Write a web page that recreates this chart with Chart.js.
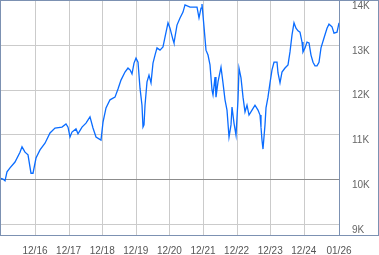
<!DOCTYPE html>
<html>
<head>
<meta charset="utf-8">
<script src="https://cdn.jsdelivr.net/npm/chart.js@4.4.1/dist/chart.umd.min.js"></script>
<style>
  html, body { margin: 0; padding: 0; background: #fff; }
  canvas { display: block; }
</style>
</head>
<body>
<canvas id="growthChart" width="379" height="255"></canvas>
<script>
// months counted from Dec 2015 (0 = 12/15)
var months = [-0.5, 0.57, 1.29, 2.0, 3.07, 4.86, 6.64, 7.36, 8.43, 9.5, 10.57, 11.29, 12.36, 13.79, 15.57,
    17.36, 19.14, 21.64, 23.07, 23.79, 24.5, 25.21, 26.64, 27.36, 28.79, 30.21, 31.64, 32.71, 33.79, 35.57,
    36.29, 37.36, 38.79, 40.57, 41.64, 42.71, 44.14, 45.21, 45.93, 46.64, 47.36, 48.07, 48.79, 49.5, 50.21,
    50.57, 50.93, 51.29, 52.0, 52.71, 53.43, 54.14, 54.86, 55.57, 56.64, 57.71, 58.43, 59.5, 60.21, 61.29,
    61.64, 62.71, 63.79, 64.86, 65.57, 67.36, 69.14, 69.86, 70.57, 71.29, 71.64, 72.36, 73.07, 73.79, 74.5,
    75.21, 75.57, 76.29, 76.64, 77.36, 78.43, 79.14, 79.86, 80.57, 81.29, 82.0, 82.36, 83.07, 83.79, 84.5,
    84.86, 85.57, 86.29, 87.0, 87.71, 88.43, 89.5, 90.57, 91.64, 92.36, 92.71, 93.07, 93.43, 94.14, 94.5,
    95.21, 95.93, 96.64, 97.36, 98.43, 98.79, 99.5, 100.21, 101.29, 102.36, 103.07, 103.79, 104.5, 105.21,
    105.93, 106.64, 107.36, 107.71, 108.43, 109.14, 109.86, 110.57, 111.29, 112.0, 112.71, 113.43, 114.14,
    115.21, 116.29, 117.0, 118.07, 118.79, 119.86, 120.57];

var values = [10020, 10000, 9960, 10160, 10250, 10380, 10600, 10720, 10600, 10540, 10130, 10130, 10470, 10650, 10800,
    11030, 11140, 11160, 11230, 11160, 10940, 11050, 11120, 11010, 11160, 11250, 11390, 11140, 10940, 10870,
    11270, 11590, 11770, 11830, 12010, 12210, 12390, 12480, 12440, 12350, 12590, 12700, 12610, 12030, 11650,
    11160, 11210, 11650, 12170, 12320, 12150, 12590, 12770, 12930, 12880, 12950, 13170, 13490, 13370, 13110,
    13040, 13440, 13600, 13730, 13890, 13840, 13840, 13840, 13600, 13820, 13910, 13400, 12880, 12770, 12550,
    11990, 11880, 12280, 11830, 12170, 12500, 12150, 11770, 11540, 10940, 11210, 11610, 11250, 10980, 11770,
    12480, 12260, 11830, 11500, 11650, 11430, 11540, 11650, 11540, 11430, 11160, 10870, 10670, 11210, 11590,
    11830, 12150, 12440, 12610, 12610, 12370, 12150, 12390, 12480, 12550, 12840, 13220, 13490, 13370,
    13310, 13280, 13060, 12840, 12930, 13060, 13040, 12770, 12610, 12530, 12530, 12610, 12930,
    13150, 13370, 13460, 13400, 13260, 13280, 13490];

var tickMonths = [12, 24, 36, 48, 60, 72, 84, 96, 108, 120.57];
var tickLabels = ['12/16', '12/17', '12/18', '12/19', '12/20', '12/21', '12/22', '12/23', '12/24', '01/26'];
var yTicks = [9000, 10000, 11000, 12000, 13000, 14000];

var frameColor = '#7c91b2';
var gridColor = '#cbcbcb';
var baseColor = '#8c8c8c';

// frame round the plot and the axis panel, grid drawn on the library's scales
var framePlugin = {
    id: 'frame',
    beforeDatasetsDraw: function (chart) {
        var c = chart.ctx;
        var a = chart.chartArea;
        var xs = chart.scales.x;
        var ys = chart.scales.y;
        c.save();
        c.lineWidth = 1;
        tickMonths.forEach(function (m) {
            var px = Math.round(xs.getPixelForValue(m)) + 0.5;
            if (px > a.right - 1) return;
            c.strokeStyle = gridColor;
            c.beginPath(); c.moveTo(px, a.top); c.lineTo(px, a.bottom); c.stroke();
        });
        yTicks.forEach(function (v) {
            var py = Math.round(ys.getPixelForValue(v)) + 0.5;
            c.strokeStyle = v === 10000 ? baseColor : gridColor;
            c.beginPath(); c.moveTo(a.left, py); c.lineTo(a.right, py); c.stroke();
        });
        c.restore();
    },
    afterDraw: function (chart) {
        var c = chart.ctx;
        var w = chart.width;
        var a = chart.chartArea;
        c.save();
        c.strokeStyle = frameColor;
        c.lineWidth = 1;
        c.beginPath();
        c.moveTo(0, 0.5); c.lineTo(w, 0.5);
        c.moveTo(0.5, 0); c.lineTo(0.5, a.bottom + 1);
        c.moveTo(w - 0.5, 0); c.lineTo(w - 0.5, a.bottom + 1);
        c.moveTo(a.right + 0.5, 0); c.lineTo(a.right + 0.5, a.bottom + 1);
        c.moveTo(0, a.bottom + 0.5); c.lineTo(w, a.bottom + 0.5);
        c.stroke();
        c.restore();
    }
};

var ctx = document.getElementById('growthChart').getContext('2d');
var myChart = new Chart(ctx, {
    type: 'line',
    data: {
        datasets: [{
            data: months.map(function (m, i) { return { x: m, y: values[i] }; }),
            borderColor: '#0a6cff',
            borderWidth: 1.3,
            pointRadius: 0,
            tension: 0,
            fill: false
        }]
    },
    options: {
        responsive: false,
        animation: false,
        layout: { padding: 0 },
        plugins: {
            legend: { display: false },
            tooltip: { enabled: false }
        },
        scales: {
            x: {
                type: 'linear',
                min: -0.5,
                max: 120.57,
                grid: { display: false },
                border: { display: false },
                afterBuildTicks: function (scale) {
                    scale.ticks = tickMonths.map(function (v) { return { value: v }; });
                },
                afterFit: function (scale) {
                    scale.height = 20;
                    scale.paddingLeft = 0;
                    scale.paddingRight = 0;
                },
                ticks: {
                    autoSkip: false,
                    maxRotation: 0,
                    padding: 2,
                    color: '#555',
                    font: { family: 'Liberation Sans, Arial, sans-serif', size: 10 },
                    callback: function (value, index) { return tickLabels[index]; }
                }
            },
            y: {
                position: 'right',
                min: 8750,
                max: 14000,
                grid: { display: false },
                border: { display: false },
                afterBuildTicks: function (scale) {
                    scale.ticks = yTicks.map(function (v) { return { value: v }; });
                },
                afterFit: function (scale) {
                    scale.width = 40;
                    scale.paddingTop = 0;
                    scale.paddingBottom = 0;
                },
                ticks: {
                    padding: 5,
                    labelOffset: 6,
                    color: '#666',
                    font: { family: 'Liberation Sans, Arial, sans-serif', size: 10 },
                    callback: function (v) { return (v / 1000) + 'K'; }
                }
            }
        }
    },
    plugins: [framePlugin]
});
</script>
</body>
</html>
